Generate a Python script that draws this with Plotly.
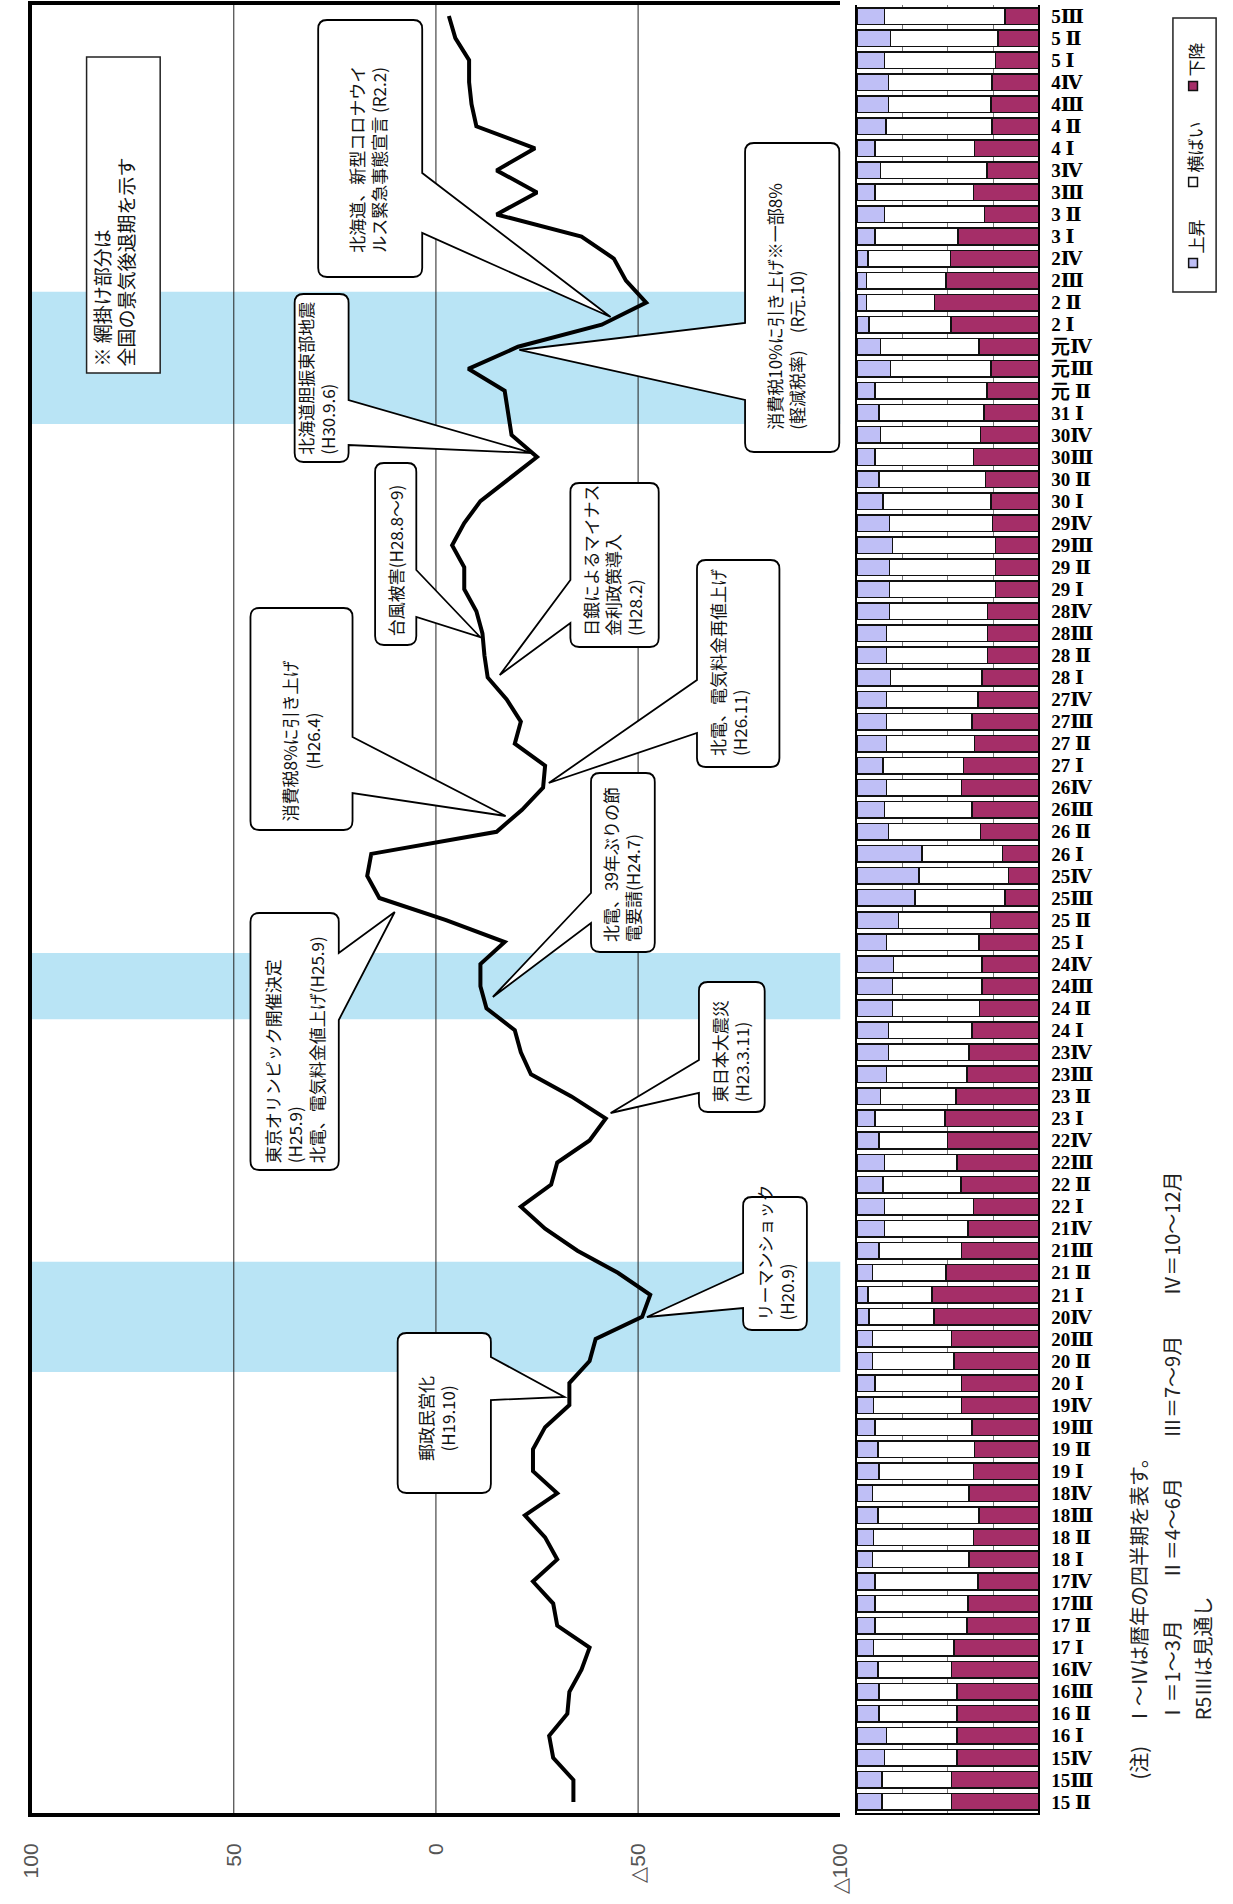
import plotly.graph_objects as go

W, H = 1233, 1904

# quarters, oldest (bottom) to newest (top)
quarters = [
    "15 Ⅱ", "15Ⅲ", "15Ⅳ",
    "16 Ⅰ", "16 Ⅱ", "16Ⅲ", "16Ⅳ",
    "17 Ⅰ", "17 Ⅱ", "17Ⅲ", "17Ⅳ",
    "18 Ⅰ", "18 Ⅱ", "18Ⅲ", "18Ⅳ",
    "19 Ⅰ", "19 Ⅱ", "19Ⅲ", "19Ⅳ",
    "20 Ⅰ", "20 Ⅱ", "20Ⅲ", "20Ⅳ",
    "21 Ⅰ", "21 Ⅱ", "21Ⅲ", "21Ⅳ",
    "22 Ⅰ", "22 Ⅱ", "22Ⅲ", "22Ⅳ",
    "23 Ⅰ", "23 Ⅱ", "23Ⅲ", "23Ⅳ",
    "24 Ⅰ", "24 Ⅱ", "24Ⅲ", "24Ⅳ",
    "25 Ⅰ", "25 Ⅱ", "25Ⅲ", "25Ⅳ",
    "26 Ⅰ", "26 Ⅱ", "26Ⅲ", "26Ⅳ",
    "27 Ⅰ", "27 Ⅱ", "27Ⅲ", "27Ⅳ",
    "28 Ⅰ", "28 Ⅱ", "28Ⅲ", "28Ⅳ",
    "29 Ⅰ", "29 Ⅱ", "29Ⅲ", "29Ⅳ",
    "30 Ⅰ", "30 Ⅱ", "30Ⅲ", "30Ⅳ",
    "31 Ⅰ", "元 Ⅱ", "元Ⅲ", "元Ⅳ",
    "2 Ⅰ", "2 Ⅱ", "2Ⅲ", "2Ⅳ",
    "3 Ⅰ", "3 Ⅱ", "3Ⅲ", "3Ⅳ",
    "4 Ⅰ", "4 Ⅱ", "4Ⅲ", "4Ⅳ",
    "5 Ⅰ", "5 Ⅱ", "5Ⅲ",
]

# BSI (上昇 - 下降)
bsi = [
    -34, -34, -29, -28, -32.5, -33, -36, -38, -30, -29,
    -24, -30, -27, -22, -30, -24, -24, -27, -33, -33,
    -38, -39.5, -51, -53, -45, -35, -27, -21, -28.5, -30,
    -38, -42, -33.5, -23.5, -21, -19.5, -12.5, -11, -11, -17,
    -2.5, 14, 17, 16, -15, -21.3, -26.5, -27, -19.5, -21,
    -17.5, -12.8, -12, -11.5, -10, -7, -7, -4, -7, -11,
    -18, -25, -18.7, -17.8, -17, -8, -20.3, -41, -52, -47,
    -44, -36, -15, -25, -15, -24.5, -10, -8.8, -8.2, -8.2,
    -4.8, -3.2,
]

up = [
    13.9, 13.9, 15.3, 16.2, 12.1, 12.1, 11.6, 9.0, 9.9, 9.9,
    9.9, 8.5, 9.0, 11.6, 8.7, 12.1, 11.6, 9.9, 9.0, 9.9,
    8.5, 8.5, 6.7, 6.1, 8.5, 12.1, 15.3, 15.3, 14.4, 15.3,
    12.1, 9.9, 13.0, 16.2, 17.5, 17.5, 19.7, 19.7, 20.2, 16.2,
    22.9, 31.9, 34.1, 35.9, 17.5, 15.3, 16.2, 14.4, 16.2, 16.2,
    16.2, 18.4, 16.2, 16.2, 17.9, 17.9, 17.9, 19.7, 17.9, 14.4,
    12.1, 9.9, 13.0, 12.1, 9.9, 18.4, 13.0, 6.7, 5.2, 5.2,
    6.1, 9.9, 15.3, 9.9, 13.0, 9.9, 16.1, 17.5, 17.5, 15.3,
    18.4, 15.3,
]
flat = [
    38.3, 38.3, 39.8, 38.9, 43.0, 43.0, 40.6, 44.6, 50.6, 51.3,
    56.7, 53.2, 55.1, 55.5, 53.0, 52.0, 53.2, 53.6, 48.6, 47.7,
    45.1, 43.7, 35.7, 35.2, 40.6, 45.5, 45.9, 48.8, 42.8, 39.8,
    37.9, 38.7, 41.5, 44.3, 44.2, 46.0, 47.8, 49.3, 48.8, 50.9,
    50.6, 49.7, 49.3, 44.2, 50.6, 48.2, 41.4, 44.3, 48.6, 47.3,
    50.4, 50.6, 55.8, 55.8, 54.1, 58.3, 58.3, 56.5, 56.8, 59.4,
    58.7, 54.2, 55.1, 57.8, 61.8, 55.4, 54.1, 45.1, 37.6, 43.9,
    45.3, 45.9, 54.9, 54.2, 58.7, 54.9, 58.3, 56.3, 56.9, 60.9,
    59.2, 66.3,
]
down = [
    47.8, 47.8, 44.9, 44.9, 44.9, 44.9, 47.8, 46.4, 39.5, 38.8,
    33.4, 38.3, 35.9, 32.9, 38.3, 35.9, 35.2, 36.5, 42.4, 42.4,
    46.4, 47.8, 57.6, 58.7, 50.9, 42.4, 38.8, 35.9, 42.8, 44.9,
    50.0, 51.4, 45.5, 39.5, 38.3, 36.5, 32.5, 31.0, 31.0, 32.9,
    26.5, 18.4, 16.6, 19.9, 31.9, 36.5, 42.4, 41.3, 35.2, 36.5,
    33.4, 31.0, 28.0, 28.0, 28.0, 23.8, 23.8, 23.8, 25.3, 26.2,
    29.2, 35.9, 31.9, 30.1, 28.3, 26.2, 32.9, 48.2, 57.2, 50.9,
    48.6, 44.2, 29.8, 35.9, 28.3, 35.2, 25.6, 26.2, 25.6, 23.8,
    22.4, 18.4,
]

# 全国の景気後退期 (first and last shaded quarter)
recessions = [("20 Ⅱ", "21 Ⅱ"), ("24 Ⅱ", "24Ⅳ"), ("31 Ⅰ", "2 Ⅱ")]

value_ticks = [100, 50, 0, -50, -100]
value_labels = ["100", "50", "0", "△50", "△100"]

series_names = ["上昇", "横ばい", "下降"]
series_colors = ["#bfbff6", "#ffffff", "#a52e68"]

idx = list(range(len(quarters)))
JP = "Noto Sans CJK JP"


def P(x, y):
    return f"{x / W:.5f},{1 - y / H:.5f}"


def callout_path(L, T, R, B, side, b0, b1, ax, ay, r=9):
    d = f"M {P(L + r, T)} L {P(R - r, T)} Q {P(R, T)} {P(R, T + r)} "
    if side == "right":
        d += f"L {P(R, b0)} L {P(ax, ay)} L {P(R, b1)} "
    d += f"L {P(R, B - r)} Q {P(R, B)} {P(R - r, B)} L {P(L + r, B)} Q {P(L, B)} {P(L, B - r)} "
    if side == "left":
        d += f"L {P(L, b1)} L {P(ax, ay)} L {P(L, b0)} "
    d += f"L {P(L, T + r)} Q {P(L, T)} {P(L + r, T)} Z"
    return d


# text, box (L, T, R, B), wedge side, wedge base (y0, y1), apex, text x, text y, anchor, align
callouts = [
    ("北海道、新型コロナウイ<br>ルス緊急事態宣言 (R2.2)", (312, 20, 418, 277), "right", (173, 233), (610, 317), 362, 255, "bottom", "left"),
    ("消費税10%に引き上げ※一部8%<br>(軽減税率)　(R元.10)", (747, 143, 843, 452), "left", (323, 400), (517, 350), 788, 432, "bottom", "left"),
    ("北海道胆振東部地震<br>(H30.9.6)", (288, 294, 343, 462), "right", (400, 445), (530, 453), 310, 457, "bottom", "left"),
    ("台風被害(H28.8～9)", (370, 463, 412, 645), "right", (570, 617), (477, 637), 391, 638, "bottom", "left"),
    ("日銀によるマイナス<br>金利政策導入<br>(H28.2)", (569, 483, 659, 647), "left", (580, 623), (497, 675), 612, 638, "bottom", "left"),
    ("北電、電気料金再値上げ<br>(H26.11)", (698, 560, 782, 767), "left", (680, 733), (547, 783), 730, 758, "bottom", "left"),
    ("消費税8%に引き上げ<br>(H26.4)", (243, 608, 347, 830), "right", (737, 793), (503, 816), 295, 741, "middle", "center"),
    ("東京オリンピック開催決定<br>(H25.9)<br>北電、電気料金値上げ(H25.9)", (243, 913, 333, 1170), "right", (953, 1020), (390, 912), 288, 1165, "bottom", "left"),
    ("北電、39年ぶりの節<br>電要請(H24.7)", (590, 773, 655, 952), "left", (893, 923), (490, 997), 621, 944, "bottom", "left"),
    ("東日本大震災<br>(H23.3.11)", (700, 982, 767, 1112), "left", (1060, 1093), (610, 1113), 732, 1104, "bottom", "left"),
    ("リーマンショック<br>(H20.9)", (745, 1197, 810, 1330), "left", (1273, 1308), (647, 1317), 777, 1323, "bottom", "left"),
    ("郵政民営化<br>(H19.10)", (393, 1333, 488, 1493), "right", (1357, 1400), (563, 1397), 432, 1418, "middle", "center"),
]

fig = go.Figure()

fig.add_trace(go.Scatter(
    x=bsi, y=idx, mode="lines",
    line=dict(color="black", width=4),
    xaxis="x", yaxis="y", hoverinfo="skip",
))

for name, vals, col in zip(series_names, [up, flat, down], series_colors):
    fig.add_trace(go.Bar(
        x=vals, y=idx, orientation="h", name=name,
        marker=dict(color=col, line=dict(color="#111111", width=1.5)),
        xaxis="x2", yaxis="y2",
    ))

shapes = []
for a, b in recessions:
    shapes.append(dict(
        type="rect", xref="x domain", yref="y",
        x0=0, x1=1, y0=quarters.index(a) - 0.5, y1=quarters.index(b) + 0.5,
        fillcolor="#b9e4f5", line=dict(width=0), layer="below",
    ))
for v in [50, 0, -50]:
    shapes.append(dict(
        type="line", xref="x", yref="y domain", x0=v, x1=v, y0=0, y1=1,
        line=dict(color="#222222", width=1), layer="below",
    ))

annotations = []
for text, (L, T, R, B), side, (b0, b1), (ax, ay), tx, ty, va, al in callouts:
    shapes.append(dict(
        type="path", xref="paper", yref="paper",
        path=callout_path(L, T, R, B, side, b0, b1, ax, ay),
        fillcolor="white", line=dict(color="black", width=1.8), layer="above",
    ))
    annotations.append(dict(
        xref="paper", yref="paper", x=tx / W, y=1 - ty / H,
        text=text, showarrow=False, textangle=-90,
        xanchor="center", yanchor=va, align=al,
        font=dict(family=JP, size=17, color="#111111"),
    ))

# note box
shapes.append(dict(
    type="rect", xref="paper", yref="paper",
    x0=76 / W, x1=151 / W, y0=1 - 373 / H, y1=1 - 57 / H,
    fillcolor="white", line=dict(color="#222222", width=1.5), layer="above",
))
annotations.append(dict(
    xref="paper", yref="paper", x=104 / W, y=1 - 369 / H,
    text="※ 網掛け部分は<br>全国の景気後退期を示す", showarrow=False, textangle=-90,
    xanchor="center", yanchor="bottom", align="left",
    font=dict(family=JP, size=19, color="#111111"),
))

# legend
shapes.append(dict(
    type="rect", xref="paper", yref="paper",
    x0=1183 / W, x1=1227 / W, y0=1 - 292 / H, y1=1 - 18 / H,
    fillcolor="white", line=dict(color="#222222", width=1.5),
))
for name, col, sq_y, tx_y in zip(series_names, series_colors, [263, 182, 86], [237, 147, 60]):
    shapes.append(dict(
        type="rect", xref="paper", yref="paper",
        x0=1199 / W, x1=1208 / W, y0=1 - (sq_y + 4.5) / H, y1=1 - (sq_y - 4.5) / H,
        fillcolor=col, line=dict(color="#111111", width=1.5),
    ))
    annotations.append(dict(
        xref="paper", yref="paper", x=1205 / W, y=1 - tx_y / H,
        text=name, showarrow=False, textangle=-90,
        xanchor="center", yanchor="middle",
        font=dict(family=JP, size=17, color="#111111"),
    ))

# footnote
notes = [
    ("(注)　Ⅰ～Ⅳは暦年の四半期を表す。", 1147, 1782),
    ("Ⅰ＝1～3月　　Ⅱ＝4～6月　　Ⅲ＝7～9月　　Ⅳ＝10～12月", 1182, 1724),
    ("R5Ⅲは見通し", 1213, 1722),
]
for text, x, y in notes:
    annotations.append(dict(
        xref="paper", yref="paper", x=x / W, y=1 - y / H,
        text=text, showarrow=False, textangle=-90,
        xanchor="center", yanchor="bottom",
        font=dict(family=JP, size=20, color="#222222"),
    ))

ydom = [1 - 1813 / H, 1 - 5 / H]
fig.update_layout(
    width=W, height=H,
    margin=dict(l=0, r=0, t=0, b=0),
    plot_bgcolor="white", paper_bgcolor="white",
    showlegend=False, barmode="stack", bargap=0.25,
    xaxis=dict(
        domain=[20 / W, 844 / W], range=[100, -100], anchor="y",
        tickvals=value_ticks, ticktext=value_labels, tickangle=-90,
        tickfont=dict(family="Liberation Sans, Arial", size=21, color="#555555"),
        ticks="", ticklabelstandoff=18,
        showgrid=False, zeroline=False,
        showline=True, linewidth=4, linecolor="black", mirror=True,
    ),
    yaxis=dict(
        domain=ydom, range=[-0.5, 81.5], anchor="x",
        showticklabels=False, ticks="", showgrid=False, zeroline=False,
        showline=True, linewidth=4, linecolor="black",
    ),
    xaxis2=dict(
        domain=[861 / W, 1046 / W], range=[0, 100], anchor="y2",
        tickvals=[25, 50, 75], showticklabels=False, ticks="",
        showgrid=True, gridcolor="#777777", gridwidth=1, zeroline=False,
        showline=True, linewidth=2, linecolor="black",
    ),
    yaxis2=dict(
        domain=ydom, range=[-0.5, 81.5], anchor="x2", side="right",
        tickvals=idx, ticktext=quarters, ticks="", ticklabelstandoff=7,
        tickfont=dict(family="Liberation Serif, DejaVu Serif", size=19,
                      color="black", weight="bold"),
        showgrid=False, zeroline=False,
        showline=True, linewidth=2, linecolor="black", mirror=True,
    ),
    shapes=shapes,
    annotations=annotations,
)

fig.write_html(
    "out.html",
    config={"displayModeBar": False},
    post_script="document.body.style.margin='0';",
)
